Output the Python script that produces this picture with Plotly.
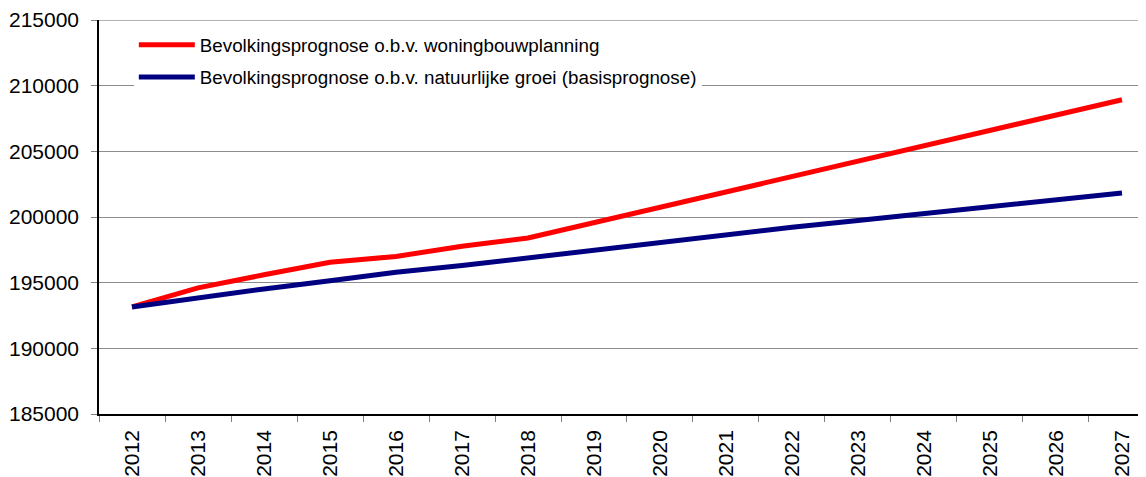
import plotly.graph_objects as go

years = [str(y) for y in range(2012, 2028)]
woningbouw = [193150, 194600, 195600, 196550, 197000, 197780, 198400, 199570,
              200800, 201970, 203130, 204290, 205450, 206610, 207770, 208930]
natuurlijk = [193150, 193880, 194520, 195150, 195790, 196300, 196890, 197490,
              198090, 198690, 199215, 199740, 200260, 200780, 201300, 201830]
names = ["Bevolkingsprognose o.b.v. woningbouwplanning",
         "Bevolkingsprognose o.b.v. natuurlijke groei (basisprognose)"]
y_ticks = [185000, 190000, 195000, 200000, 205000, 210000, 215000]

FONT = "Liberation Sans, Arial, sans-serif"

fig = go.Figure()
fig.add_trace(go.Scatter(x=years, y=woningbouw, mode="lines", name=names[0],
                         legendgroup="a",
                         line=dict(color="#FF0000", width=5)))
fig.add_trace(go.Scatter(x=years, y=natuurlijk, mode="lines", name=names[1],
                         legendgroup="b",
                         line=dict(color="#000080", width=5)))

fig.update_layout(
    width=1146, height=477,
    margin=dict(l=91, r=0, t=12, b=71, autoexpand=False),
    paper_bgcolor="white", plot_bgcolor="white",
    font=dict(family=FONT, size=21, color="black"),
    showlegend=True,
    legend=dict(x=0.033, y=0.985, xanchor="left", yanchor="top",
                bgcolor="white", borderwidth=0,
                font=dict(family=FONT, size=18.8, color="black"),
                tracegroupgap=5, itemwidth=56),
)
fig.update_xaxes(
    type="category", range=[-0.5, 15.485], automargin=False,
    tickangle=-90, tickson="boundaries",
    ticks="outside", ticklen=6, tickcolor="#808080",
    showline=True, linecolor="black", linewidth=1.5,
    showgrid=False, tickfont=dict(size=21), ticklabelstandoff=6,
)
fig.update_yaxes(
    range=[185000, 215000], tickvals=y_ticks, automargin=False,
    ticktext=[str(v) for v in y_ticks],
    ticks="outside", ticklen=6, tickcolor="#808080",
    showline=True, linecolor="black", linewidth=1.5,
    showgrid=True, gridcolor="#8c8c8c", gridwidth=1,
    zeroline=False, tickfont=dict(size=21), ticklabelstandoff=8,
)
fig.add_hline(y=215000, line=dict(color="#666666", width=1), layer="below")

fig.write_html("out.html")
